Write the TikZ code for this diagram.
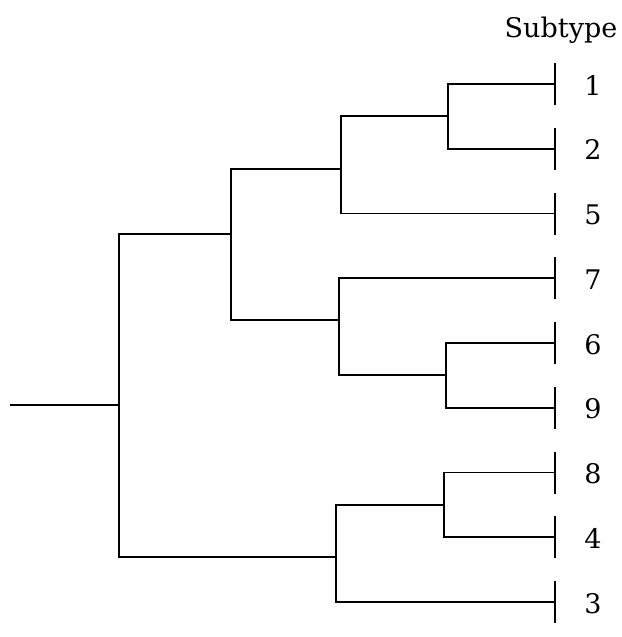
\documentclass[tikz,border=0pt]{standalone}
\usepackage{fontspec}
\setmainfont{DejaVu Serif}
\begin{document}
\begin{tikzpicture}[x=1pt,y=-1pt,
  branch/.style={line width=1.8pt,line cap=rect},
  tick/.style={line width=2pt},
  lab/.style={anchor=base,inner sep=0pt,font=\fontsize{27}{32}\selectfont}]
\useasboundingbox (0,0) rectangle (621,637);
% leaves
\foreach \n/\i in {1/0,2/1,5/2,7/3,6/4,9/5,8/6,4/7,3/8}{
  \coordinate (L\n) at (555,{84+64.75*\i});
  \node[lab] (T\n) at (593,{95+64.75*\i}) {\n};
}
\node[lab] (head) at (561,37) {Subtype};
% internal nodes
\coordinate (n12) at (448,116);
\coordinate (n125) at (341,169);
\coordinate (n69) at (446,375);
\coordinate (n769) at (339,320);
\coordinate (nA) at (231,234);
\coordinate (n84) at (444,505);
\coordinate (n843) at (336,557);
\coordinate (root) at (119,405);
\coordinate (stem) at (11,405);
% branches
\draw[branch] (n12) |- (L1); \draw[branch] (n12) |- (L2);
\draw[branch] (n125) |- (n12); \draw[branch] (n125) |- (L5);
\draw[branch] (n69) |- (L6); \draw[branch] (n69) |- (L9);
\draw[branch] (n769) |- (L7); \draw[branch] (n769) |- (n69);
\draw[branch] (nA) |- (n125); \draw[branch] (nA) |- (n769);
\draw[branch] (n84) |- (L8); \draw[branch] (n84) |- (L4);
\draw[branch] (n843) |- (n84); \draw[branch] (n843) |- (L3);
\draw[branch] (root) |- (nA); \draw[branch] (root) |- (n843);
\draw[branch] (stem) -- (root);
% ticks
\foreach \n in {1,2,5,7,6,9,8,4,3}{
  \draw[tick] ([yshift=-21pt]L\n) -- ([yshift=21pt]L\n);
}
\end{tikzpicture}
\end{document}
